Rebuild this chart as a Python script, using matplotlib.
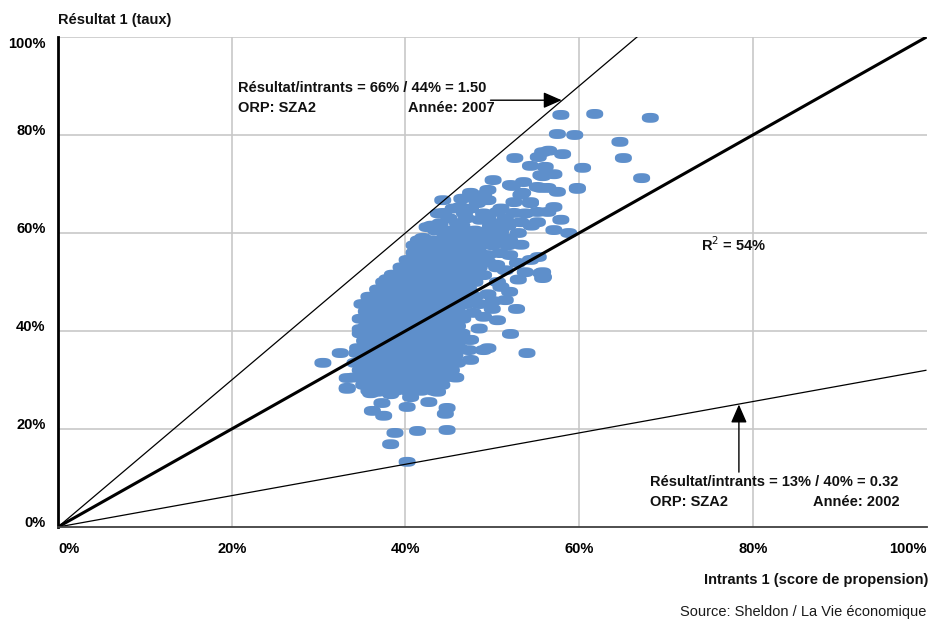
import matplotlib
matplotlib.use("Agg")
import matplotlib.pyplot as plt
import numpy as np
from matplotlib.path import Path

plt.rcParams['font.family'] = ['Liberation Sans Narrow', 'Liberation Sans', 'DejaVu Sans']

# ---------------- data (percent) ----------------
edge_x = [57.9, 61.8, 68.2, 57.5, 59.5, 64.7, 65.1, 67.2, 60.4, 59.8, 58.1, 55.8, 55.3, 56.5, 52.6,
          54.4, 56.1, 57.1, 55.8, 50.1, 53.6, 52.3, 55.2, 56.4, 57.5, 53.3, 49.5, 52.5, 54.4, 57.1,
          49.5, 44.3, 52.1, 55.6, 59.8, 47.5, 49.0, 53.5, 55.6, 44.4, 46.3, 48.3, 50.6, 54.4, 52.5,
          55.2, 56.4, 42.5, 46.0, 48.6, 50.9, 53.3, 55.2, 57.9, 57.1, 58.8, 53.0, 53.3, 50.6, 54.4,
          55.3, 52.9, 55.8, 55.8, 51.5, 50.9, 43.2, 45.2, 47.1, 49.0, 41.7, 43.7,
          30.5, 32.5, 34.4, 33.3, 33.3, 34.8, 35.6, 35.7, 37.9, 37.1, 35.6, 34.8, 36.8,
          55.9, 53.8, 50.1, 51.5, 52.8, 50.6, 49.0, 47.8, 52.1, 47.5, 49.0, 47.3, 54.0, 47.5, 44.6,
          45.2, 50.6, 49.0,
          40.2, 38.3, 38.8, 41.4, 44.8, 37.5, 40.2, 36.2, 37.3, 40.6, 42.7, 44.8, 44.6, 33.3, 36.0,
          38.3, 43.7, 37.9, 49.5, 47.3, 55.6,
          49.5, 50.5, 51.0, 49.5, 48.5, 50.0, 52.0, 53.0, 48.5, 48.0]
edge_y = [84.1, 84.3, 83.5, 80.2, 80.0, 78.6, 75.3, 71.2, 73.3, 69.0, 76.1, 76.5, 75.5, 76.8, 75.3,
          73.7, 73.5, 72.0, 71.6, 70.8, 70.4, 69.6, 69.4, 69.2, 68.4, 67.8, 68.8, 66.3, 66.3, 65.3,
          66.7, 66.7, 69.8, 71.8, 69.2, 68.2, 67.8, 68.2, 69.2, 64.1, 65.3, 66.1, 64.3, 66.1, 64.1,
          64.3, 64.3, 61.2, 62.0, 62.7, 62.0, 62.2, 62.2, 62.7, 60.6, 60.0, 60.0, 57.6, 58.2, 54.5,
          55.1, 53.9, 52.0, 50.8, 52.4, 55.9, 58.4, 59.6, 59.2, 59.2, 56.5, 56.9,
          33.5, 35.5, 35.5, 30.4, 28.4, 40.4, 43.3, 45.7, 50.6, 48.0, 38.8, 33.5, 27.6,
          51.0, 52.0, 46.1, 46.3, 44.5, 42.2, 42.9, 43.7, 39.4, 38.2, 36.1, 36.1, 35.5, 34.1, 32.7,
          31.0, 50.0, 51.4,
          13.3, 16.9, 19.2, 19.6, 19.8, 22.7, 24.5, 23.7, 25.3, 26.5, 25.5, 24.3, 23.1, 28.2, 27.3,
          27.1, 27.6, 50.4, 36.5, 38.2, 51.8,
          54.0, 53.0, 49.0, 47.5, 45.5, 44.5, 48.0, 50.5, 40.5, 47.0]

# dense core, listed row by row: (y value, x values)
core_rows_y = [67.0, 65.0, 64.0, 63.0, 62.0, 61.5, 60.5, 59.0, 58.5, 57.5, 56.0, 55.5, 54.5, 53.5,
               53.0, 51.5, 50.0, 48.5, 47.0, 45.5, 44.0, 42.5, 41.0, 39.5, 38.0, 36.5, 35.0,
               33.5, 32.0, 30.5, 29.0, 27.8]
core_rows_x = [
    [46.5, 48.0],
    [45.5, 47.5, 51.0],
    [43.8, 46.8, 49.0, 53.8],
    [45.0, 47.0, 49.5, 51.5],
    [44.0, 52.0],
    [43.0, 46.5, 49.8, 51.8, 54.5],
    [43.5, 45.0, 46.5, 48.0, 49.5, 51.0],
    [42.0, 44.5, 46.0, 47.5, 50.0, 51.5],
    [41.5, 43.0, 48.8, 52.0],
    [41.0, 42.5, 44.0, 45.5, 47.0, 48.5, 50.0, 51.8],
    [41.0, 42.5, 44.0, 45.5, 47.0, 48.5],
    [49.5, 52.0],
    [40.2, 41.7, 43.2, 44.7, 46.2, 47.7, 49.0],
    [48.5, 50.5],
    [39.5, 41.0, 42.5, 44.0, 45.5, 47.0, 48.5],
    [38.5, 40.0, 41.5, 43.0, 44.5, 46.0, 47.5, 48.6],
    [37.5, 39.0, 40.5, 42.0, 43.5, 45.0, 46.5, 48.0],
    [36.8, 38.3, 39.8, 41.3, 42.8, 44.3, 45.8, 47.3],
    [35.8, 37.3, 38.8, 40.3, 41.8, 43.3, 44.8, 46.3, 47.5],
    [35.0, 36.5, 38.0, 39.5, 41.0, 42.5, 44.0, 45.5, 47.0],
    [35.5, 37.0, 38.5, 40.0, 41.5, 43.0, 44.5, 46.0],
    [34.8, 36.3, 37.8, 39.3, 40.8, 42.3, 43.8, 45.3, 46.6],
    [35.5, 37.0, 38.5, 40.0, 41.5, 43.0, 44.5, 46.0],
    [34.8, 36.3, 37.8, 39.3, 40.8, 42.3, 43.8, 45.3, 46.5],
    [35.3, 36.8, 38.3, 39.8, 41.3, 42.8, 44.3, 45.8],
    [34.5, 36.0, 37.5, 39.0, 40.5, 42.0, 43.5, 45.0, 46.2],
    [35.2, 36.7, 38.2, 39.7, 41.2, 42.7, 44.2, 45.7],
    [34.2, 35.7, 37.2, 38.7, 40.2, 41.7, 43.2, 44.7, 46.0],
    [34.8, 36.3, 37.8, 39.3, 40.8, 42.3, 43.8, 45.3],
    [34.0, 35.5, 37.0, 38.5, 40.0, 41.5, 43.0, 44.5, 45.8],
    [35.2, 36.7, 38.2, 39.7, 41.2, 42.7, 44.2],
    [35.8, 37.3, 38.8, 40.3, 41.8, 43.3],
]

line_slopes = [1.50, 1.00, 0.32]
line_widths = [0.9, 2.2, 0.9]

x_ticks = [0, 20, 40, 60, 80, 100]
y_ticks = [0, 20, 40, 60, 80, 100]
tick_labels = ['0%', '20%', '40%', '60%', '80%', '100%']

# ---------------- figure ----------------
W, H = 931, 623
fig = plt.figure(figsize=(W / 100, H / 100), dpi=100)
ax = fig.add_axes([58 / W, 1 - 527 / H, 868.5 / W, 490 / H])
ax.set_xlim(0, 100)
ax.set_ylim(0, 100)

# rounded marker, wider than tall
t = np.linspace(0, 2 * np.pi, 80)
c, s_ = np.cos(t), np.sin(t)
n = 2.5
mx = np.sign(c) * np.abs(c) ** (2 / n)
my = 0.58 * np.sign(s_) * np.abs(s_) ** (2 / n)
ell = Path(np.column_stack([mx, my]), closed=True)

px = list(edge_x)
py = list(edge_y)
for yv, xs in zip(core_rows_y, core_rows_x):
    for xv in xs:
        px.append(xv)
        py.append(yv)

ax.scatter(px, py, marker=ell, s=150, color='#5E8FCB', edgecolors='none', zorder=3)

xx = np.array([0, 100.0])
for slope, lw in zip(line_slopes, line_widths):
    ax.plot(xx, slope * xx, color='black', lw=lw, zorder=4, solid_capstyle='butt', clip_on=True)

# grid (no line at the right edge)
ax.set_xticks(x_ticks)
ax.set_yticks(y_ticks)
for xv in x_ticks[1:-1]:
    ax.axvline(xv, color='#C8C8C8', lw=1.2, zorder=0)
for yv in y_ticks[1:]:
    ax.axhline(yv, color='#C8C8C8', lw=1.2, zorder=0)
ax.tick_params(length=0)
for sp in ['top', 'right']:
    ax.spines[sp].set_visible(False)
ax.spines['left'].set_linewidth(2.0)
ax.spines['left'].set_color('black')
ax.spines['bottom'].set_linewidth(1.3)
ax.spines['bottom'].set_color('#404040')
ax.spines['left'].set_zorder(5)
ax.spines['bottom'].set_zorder(5)

fs = 10.5
ax.set_xticklabels(tick_labels, fontsize=fs, fontweight='bold')
ax.set_yticklabels(tick_labels, fontsize=fs, fontweight='bold')
ax.tick_params(axis='x', pad=11)
ax.tick_params(axis='y', pad=9)
xl = ax.get_xticklabels()
xl[0].set_ha('left')
xl[-1].set_ha('right')
yl = ax.get_yticklabels()
for lab in yl:
    lab.set_va('baseline')
yl[-1].set_va('top')

# annotations
tk = dict(fontsize=fs, fontweight='bold', color='#111111')
ax.text(20.7, 89.6, 'Résultat/intrants = 66% / 44% = 1.50', ha='left', va='center', zorder=6, **tk)
ax.text(20.7, 85.5, 'ORP: SZA2', ha='left', va='center', zorder=6, **tk)
ax.text(40.3, 85.5, 'Année: 2007', ha='left', va='center', zorder=6, **tk)
ax.annotate('', xy=(58.0, 87.1), xytext=(49.8, 87.1),
            arrowprops=dict(arrowstyle='-|>,head_length=0.8,head_width=0.35', color='black',
                            lw=1.0, shrinkA=0, shrinkB=0, mutation_scale=14), zorder=6)

ax.text(68.2, 9.2, 'Résultat/intrants = 13% / 40% = 0.32', ha='left', va='center', zorder=6, **tk)
ax.text(68.2, 5.1, 'ORP: SZA2', ha='left', va='center', zorder=6, **tk)
ax.text(96.9, 5.1, 'Année: 2002', ha='right', va='center', zorder=6, **tk)
ax.annotate('', xy=(78.4, 25.0), xytext=(78.4, 11.2),
            arrowprops=dict(arrowstyle='-|>,head_length=0.8,head_width=0.35', color='black',
                            lw=1.0, shrinkA=0, shrinkB=0, mutation_scale=14), zorder=6)

ax.text(74.0, 57.6, 'R$^2$ = 54%', ha='left', va='center', zorder=6, **tk)

fig.text(58 / W, 1 - 20 / H, 'Résultat 1 (taux)', ha='left', va='center', **tk)
fig.text(928 / W, 1 - 580 / H, 'Intrants 1 (score de propension)', ha='right', va='center', **tk)
fig.text(926 / W, 1 - 612 / H, 'Source: Sheldon / La Vie économique', ha='right', va='center',
         fontsize=fs, color='#1a1a1a')

fig.savefig('out.png', dpi=100)
